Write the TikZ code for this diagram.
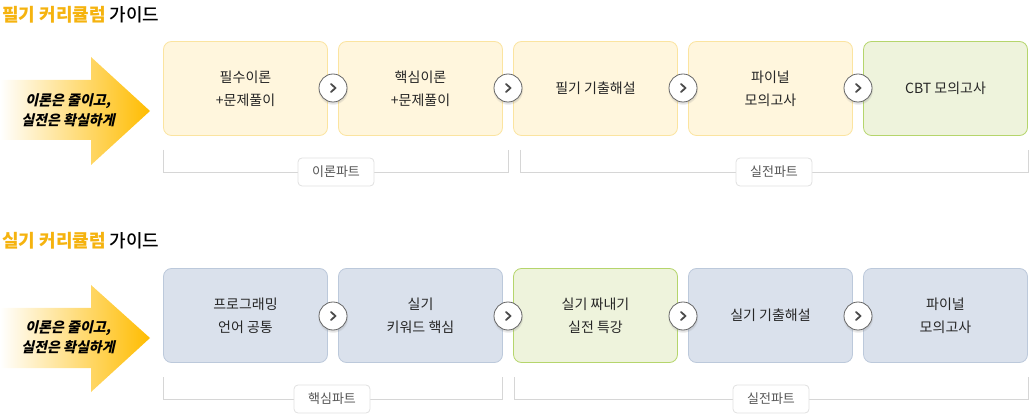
\documentclass[tikz,border=0pt]{standalone}
\usepackage{fontspec}
\setmainfont{Noto Sans CJK KR}
\newfontfamily\slantfont[FakeSlant=0.22,BoldFeatures={FakeSlant=0.22}]{Noto Sans CJK KR}
\newfontfamily\mediumko{Noto Sans CJK KR Medium}
\usetikzlibrary{shadows}

\definecolor{titleorange}{HTML}{F5B30F}
\definecolor{yelfill}{HTML}{FFF6DD}
\definecolor{yeledge}{HTML}{FBE4A0}
\definecolor{grnfill}{HTML}{EEF3DC}
\definecolor{grnedge}{HTML}{B5D56C}
\definecolor{blufill}{HTML}{DAE1EC}
\definecolor{bluedge}{HTML}{BCC9DB}
\definecolor{arrowgold}{HTML}{FFBC00}
\definecolor{linegray}{HTML}{D6D6D6}
\definecolor{textgray}{HTML}{555555}

\begin{document}
\begin{tikzpicture}[x=1pt, y=-1pt,
  stepbox/.style={rounded corners=8pt, minimum width=164pt, minimum height=94pt,
    align=center, line width=0.8pt, font=\fontsize{14}{23}\selectfont, text=black!85},
  yelbox/.style={stepbox, fill=yelfill, draw=yeledge},
  grnbox/.style={stepbox, fill=grnfill, draw=grnedge},
  blubox/.style={stepbox, fill=blufill, draw=bluedge},
  nextbtn/.style={circle, minimum size=28pt, fill=white, draw=black!60, line width=0.8pt,
    circular drop shadow={shadow xshift=0pt, shadow yshift=-1.5pt, opacity=.25},
    path picture={\draw[black!70, line width=1.8pt, line cap=round, line join=round]
      ([xshift=-2pt,yshift=4pt]path picture bounding box.center) -- ++(4.5pt,-4pt) -- ++(-4.5pt,-4pt);}},
  parttag/.style={rounded corners=4pt, fill=white, draw=black!12, line width=0.8pt,
    minimum width=76pt, minimum height=28pt, font=\fontsize{13}{15}\selectfont, text=textgray},
  bracket/.style={draw=linegray, line width=0.9pt},
  guidetitle/.style={anchor=west, inner sep=0pt, font=\mediumko\fontsize{18}{20}\selectfont},
  slogan/.style={align=center, font=\slantfont\bfseries\fontsize{14}{20}\selectfont}
]
\useasboundingbox (0,0) rectangle (1029,414);

%% written-exam curriculum
\node[guidetitle] (t1) at (2,15) {\textcolor{titleorange}{\bfseries 필기 커리큘럼} 가이드};

\shade[left color=white, right color=arrowgold]
  (0,80) -- (91,80) -- (91,57) -- (150,111) -- (91,165) -- (91,140) -- (0,140) -- cycle;
\node[slogan] (s1) at (68,110) {이론은 줄이고,\\실전은 확실하게};

\node[yelbox] (a1) at (245.5,88.5) {필수이론\\+문제풀이};
\node[yelbox] (a2) at (420.5,88.5) {핵심이론\\+문제풀이};
\node[yelbox] (a3) at (595.5,88.5) {필기 기출해설};
\node[yelbox] (a4) at (770.5,88.5) {파이널\\모의고사};
\node[grnbox] (a5) at (945.5,88.5) {CBT 모의고사};

\node[nextbtn] (n1) at (333,88) {};
\node[nextbtn] (n2) at (508,88) {};
\node[nextbtn] (n3) at (683,88) {};
\node[nextbtn] (n4) at (858,88) {};

% parts
\draw[bracket] (163.5,150) |- (508.5,172) -- (508.5,150);
\draw[bracket] (520.5,150) |- (1028,172) -- (1028,150);
\node[parttag] (p1) at (336,172) {이론파트};
\node[parttag] (p2) at (774,172) {실전파트};

%% practical-exam curriculum
\node[guidetitle] (t2) at (2,241) {\textcolor{titleorange}{\bfseries 실기 커리큘럼} 가이드};

\shade[left color=white, right color=arrowgold]
  (0,308) -- (91,308) -- (91,285) -- (150,338) -- (91,392) -- (91,368) -- (0,368) -- cycle;
\node[slogan] (s2) at (68,337) {이론은 줄이고,\\실전은 확실하게};

\node[blubox] (b1) at (245.5,315.5) {프로그래밍\\언어 공통};
\node[blubox] (b2) at (420.5,315.5) {실기\\키워드 핵심};
\node[grnbox] (b3) at (595.5,315.5) {실기 짜내기\\실전 특강};
\node[blubox] (b4) at (770.5,315.5) {실기 기출해설};
\node[blubox] (b5) at (945.5,315.5) {파이널\\모의고사};

\node[nextbtn] (m1) at (333,316) {};
\node[nextbtn] (m2) at (508,316) {};
\node[nextbtn] (m3) at (683,316) {};
\node[nextbtn] (m4) at (858,316) {};

% parts
\draw[bracket] (163.5,377) |- (502.5,399) -- (502.5,377);
\draw[bracket] (514,377) |- (1028,399) -- (1028,377);
\node[parttag] (q1) at (332,399) {핵심파트};
\node[parttag] (q2) at (771,399) {실전파트};

\end{tikzpicture}
\end{document}
